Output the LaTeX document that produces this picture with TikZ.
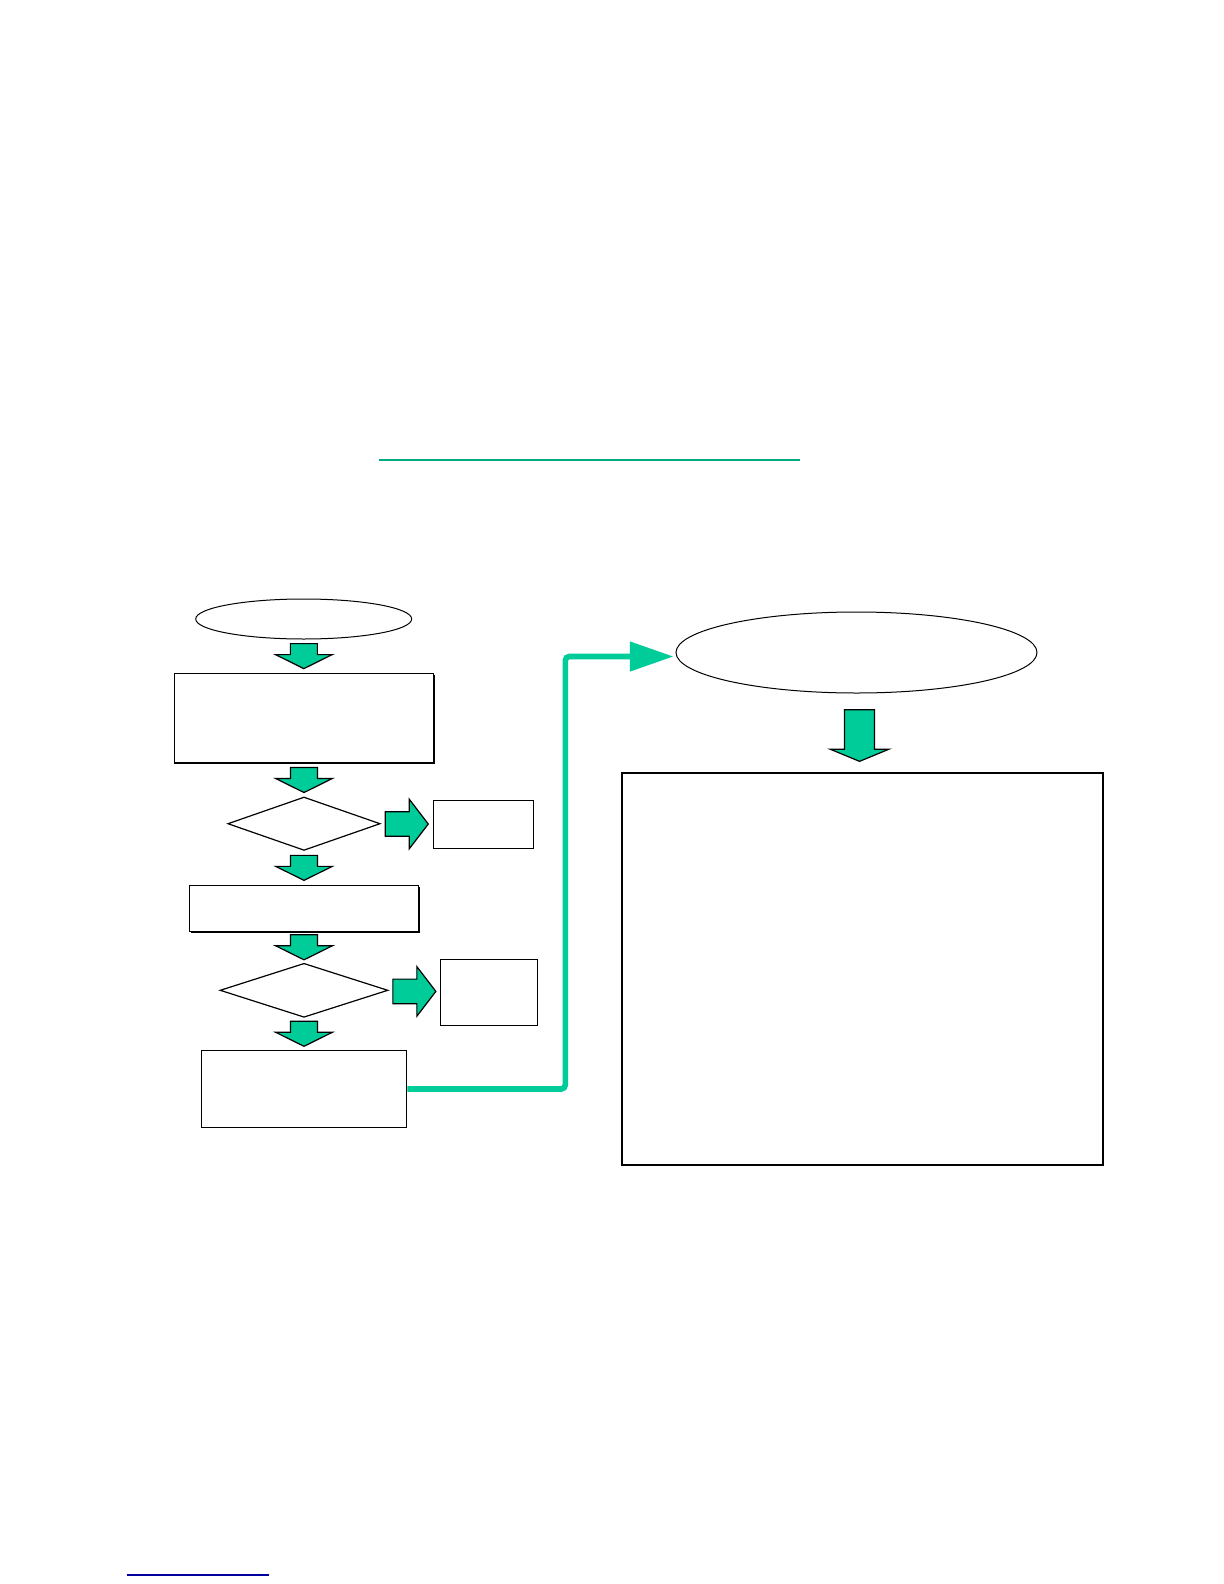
\documentclass[tikz,border=0pt]{standalone}
\usepackage{tikz}
\usetikzlibrary{arrows.meta, calc, positioning, shapes.geometric, shadows}
\definecolor{flowteal}{RGB}{0,204,153}
\definecolor{rulenavy}{RGB}{0,0,160}

\begin{document}
\begin{tikzpicture}[
        x=0.5pt, y=-0.5pt,
        every node/.style={font=\small, inner sep=0pt},
        term/.style={draw, ellipse, line width=0.5pt},
        box/.style={draw, rectangle, line width=0.6pt},
        sbox/.style={box, fill=white, general shadow={fill=black, shadow xshift=0.6pt, shadow yshift=-0.6pt}},
        dec/.style={draw, diamond, line width=0.6pt},
        blk/.style={draw, fill=flowteal, line width=0.6pt, line join=miter},
        link/.style={-{Triangle[length=21.8pt, width=14.3pt]}, flowteal, line width=2.8pt, rounded corners=2pt},
        dnarr/.pic={\draw[blk] (-13.5,-12.5) -- (13.5,-12.5) -- (13.5,-1.5) -- (28.3,-1.5)
            -- (0,12.5) -- (-28.3,-1.5) -- (-13.5,-1.5) -- cycle;},
        rtarr/.pic={\draw[blk] (-21.5,-12.3) -- (2.5,-12.3) -- (2.5,-24.8) -- (21.5,0)
            -- (2.5,24.8) -- (2.5,12.3) -- (-21.5,12.3) -- cycle;},
        bigdn/.pic={\draw[blk] (-15,-25.8) -- (15,-25.8) -- (15,13.6) -- (29.5,13.6)
            -- (0,25.8) -- (-29.5,13.6) -- (-15,13.6) -- cycle;}
    ]
        \useasboundingbox (0,0) rectangle (1224,1584);

        % left column
        \node[term] (start)  at (303.7,619)  [minimum width=108pt, minimum height=20pt] {};
        \node[sbox] (box1)   at (304,718.2)  [minimum width=129.7pt, minimum height=44.85pt] {};
        \node[dec]  (d1)     at (304,823.7)  [minimum width=76.2pt, minimum height=26.7pt] {};
        \node[box]  (no1)    at (483.5,824.3) [minimum width=50.2pt, minimum height=24pt] {};
        \node[sbox] (box2)   at (304,908.3)  [minimum width=114.7pt, minimum height=23pt] {};
        \node[dec]  (d2)     at (304,990.3)  [minimum width=84pt, minimum height=27pt] {};
        \node[box]  (no2)    at (489.2,992.5) [minimum width=48.5pt, minimum height=33.2pt] {};
        \node[box]  (box3)   at (304,1089)   [minimum width=102.7pt, minimum height=38.7pt] {};

        % right column
        \node[term] (goal)   at (856.5,652.5) [minimum width=180.5pt, minimum height=40.5pt] {};
        \node[box, line width=1.1pt] (result) at (862.6,969) [minimum width=240.3pt, minimum height=196.3pt] {};

        \pic at ($(start.south)!0.5!(box1.north)$) {dnarr};
        \pic at ($(box1.south)!0.5!(d1.north)$)    {dnarr};
        \pic at ($(d1.south)!0.5!(box2.north)$)    {dnarr};
        \pic at ($(box2.south)!0.5!(d2.north)$)    {dnarr};
        \pic at ($(d2.south)!0.5!(box3.north)$)    {dnarr};
        \pic at ($(d1.east)!0.5!(no1.west)$)       {rtarr};
        \pic at ($(d2.east)!0.5!(no2.west)$)       {rtarr};
        \pic at ($(goal.south)!0.5!(result.north)+(0,3)$) {bigdn};

        \draw[link] (box3.east) -- ++(158,0) |- ($(goal.west)+(-2,4)$);

        % rules
        \coordinate (ul1) at (379,460);
        \coordinate (ul2) at (800,460);
        \draw[flowteal!85!black, line width=1.3pt] (ul1) -- (ul2);
        \coordinate (fn1) at (127,1575);
        \coordinate (fn2) at (269,1575);
        \draw[rulenavy, line width=0.8pt] (fn1) -- (fn2);
    \end{tikzpicture}
\end{document}
